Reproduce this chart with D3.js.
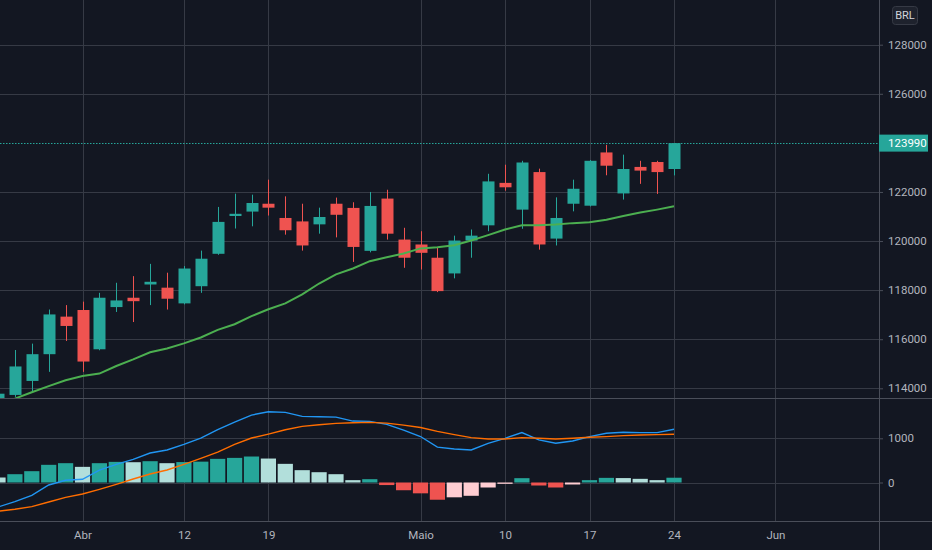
<!DOCTYPE html>
<html>
<head>
<meta charset="utf-8">
<script src="https://cdn.jsdelivr.net/npm/d3@7"></script>
<style>
    html, body { margin: 0; padding: 0; background: #131722; }
    svg { display: block; }
</style>
</head>
<body>
<svg id="chart" width="932" height="550"></svg>
<script>
// daily bars, 25 Mar - 24 May 2021
const dates = ["03-25","03-26","03-29","03-30","03-31","04-01","04-05","04-06","04-07","04-08",
    "04-09","04-12","04-13","04-14","04-15","04-16","04-19","04-20","04-22","04-23",
    "04-26","04-27","04-28","04-29","04-30","05-03","05-04","05-05","05-06","05-07",
    "05-10","05-11","05-12","05-13","05-14","05-17","05-18","05-19","05-20","05-21","05-24"];
const opens  = [113300,113730,114300,115390,116920,117190,115590,117310,117690,118230,
    118100,117460,118160,119480,121020,121200,121520,120940,120800,120680,
    121520,121350,119600,121730,120060,119860,119320,118680,120020,120640,
    122370,121280,122810,120100,121520,121440,123610,121940,123020,123220,122935];
const highs  = [113900,115560,115820,117210,117390,117530,117890,118300,118570,119070,
    118710,118980,119610,121390,121930,121890,122500,121820,121520,121360,
    121770,121580,122000,122090,120540,120400,119720,120220,120470,122740,
    123110,123270,122950,121780,122500,123300,123920,123520,123270,123270,123990];
const lows   = [113200,113650,113830,114670,115930,114670,115550,117110,116700,117390,
    117210,117420,117890,119440,120510,120600,121040,120260,119610,120300,
    120150,119150,119540,120060,118910,118840,117920,118480,119320,120400,
    122050,120500,119650,119820,121210,121410,122680,121690,122330,121920,122675];
const closes = [113780,114890,115390,117010,116540,115090,117690,117580,117550,118340,
    117650,118880,119280,120780,121110,121550,121360,120440,119820,120980,
    121070,119760,121430,120300,119320,119520,117960,120020,120220,122430,
    122190,123200,119860,120940,122130,123270,123070,122935,122870,122810,123990];
const ema20  = [113350,113580,113840,114090,114330,114500,114600,114910,115180,115470,
    115620,115830,116070,116380,116610,116940,117220,117460,117830,118270,
    118640,118880,119180,119340,119490,119700,119750,119830,120020,120240,
    120470,120640,120640,120670,120730,120770,120870,121020,121160,121280,121415];

// MACD pane
const macdLine   = [-554,-434,-290,-57,50,72,282,411,524,667,
    735,863,1006,1194,1367,1526,1600,1586,1496,1487,
    1480,1390,1383,1315,1185,1040,800,757,735,887,
    1000,1129,963,887,940,1038,1114,1137,1129,1129,1205];
const signalLine = [-651,-606,-546,-441,-335,-260,-154,-41,79,192,
    282,411,546,689,863,1006,1096,1194,1270,1306,
    1337,1352,1360,1343,1298,1245,1158,1083,1016,985,
    985,1016,1000,985,1000,1023,1038,1061,1076,1084,1091];
const histogram  = [113,188,256,400,437,354,437,467,459,482,
    437,462,472,535,557,588,542,422,279,233,
    188,53,75,-58,-175,-245,-390,-335,-301,-113,
    -30,98,-68,-113,-45,53,105,100,83,53,108];

// axis ticks
const priceTicks = [114000, 116000, 118000, 120000, 122000, 126000, 128000];
const macdTicks = [0, 1000];
const timeTickIdx = [5, 11, 16, 25, 30, 35, 40, 46];
const timeTickLabels = ["Abr", "12", "19", "Maio", "10", "17", "24", "Jun"];
const lastPrice = 123990;
const currency = "BRL";

// layout
const width = 932, height = 550;
const plotRight = 879;
const mainBottom = 398;
const macdBottom = 521;

const bg = "#131722", gridCol = "#363a45", sepCol = "#4a4e59", textCol = "#b2b5be";
const upCol = "#26a69a", downCol = "#ef5350";
const font = "Roboto, 'Liberation Sans', sans-serif";

const svg = d3.select("#chart");
svg.append("rect").attr("width", width).attr("height", height).attr("fill", bg);

const x = d3.scaleLinear().domain([0, dates.length - 1]).range([-2, 674]);
const bw = x(1) - x(0);
const yPrice = d3.scaleLinear().domain([114000, 128000]).range([388.3, 44.7]);
const yMacd = d3.scaleLinear().domain([0, 1000]).range([482.5, 438.3]);

const defs = svg.append("defs");
defs.append("clipPath").attr("id", "clipMain")
    .append("rect").attr("x", 0).attr("y", 0).attr("width", plotRight).attr("height", mainBottom);
defs.append("clipPath").attr("id", "clipMacd")
    .append("rect").attr("x", 0).attr("y", mainBottom).attr("width", plotRight).attr("height", macdBottom - mainBottom);

//grid lines
let grid = svg.append("g").attr("shape-rendering", "crispEdges");
grid.selectAll("line.v").data(timeTickIdx).enter().append("line")
    .attr("x1", d => Math.round(x(d)) + 0.5).attr("x2", d => Math.round(x(d)) + 0.5)
    .attr("y1", 0).attr("y2", macdBottom)
    .attr("stroke", gridCol);
grid.selectAll("line.p").data(priceTicks).enter().append("line")
    .attr("x1", 0).attr("x2", plotRight)
    .attr("y1", d => Math.round(yPrice(d)) + 0.5).attr("y2", d => Math.round(yPrice(d)) + 0.5)
    .attr("stroke", gridCol);
grid.selectAll("line.m").data(macdTicks).enter().append("line")
    .attr("x1", 0).attr("x2", plotRight)
    .attr("y1", d => Math.round(yMacd(d)) + 0.5).attr("y2", d => Math.round(yMacd(d)) + 0.5)
    .attr("stroke", gridCol);

//candles
let main = svg.append("g").attr("clip-path", "url(#clipMain)");
let candles = main.selectAll("g.candle").data(dates).enter().append("g");
candles.append("line")
    .attr("x1", (d, i) => Math.round(x(i)) + 0.5)
    .attr("x2", (d, i) => Math.round(x(i)) + 0.5)
    .attr("y1", (d, i) => yPrice(highs[i]))
    .attr("y2", (d, i) => yPrice(lows[i]))
    .attr("stroke", (d, i) => closes[i] >= opens[i] ? upCol : downCol)
    .attr("stroke-width", 1);
candles.append("rect")
    .attr("x", (d, i) => Math.round(x(i)) + 0.5 - 6)
    .attr("width", 12)
    .attr("y", (d, i) => yPrice(Math.max(opens[i], closes[i])))
    .attr("height", (d, i) => Math.max(1.5, Math.abs(yPrice(opens[i]) - yPrice(closes[i]))))
    .attr("fill", (d, i) => closes[i] >= opens[i] ? upCol : downCol);

//moving average
main.append("path")
    .datum(ema20)
    .attr("d", d3.line().x((d, i) => x(i)).y(d => yPrice(d)))
    .attr("fill", "none")
    .attr("stroke", "#4caf50")
    .attr("stroke-width", 2);

//last price line
main.append("line")
    .attr("x1", 0).attr("x2", plotRight)
    .attr("y1", Math.round(yPrice(lastPrice)) + 0.5).attr("y2", Math.round(yPrice(lastPrice)) + 0.5)
    .attr("stroke", upCol)
    .attr("stroke-dasharray", "1.5,1.5");

//macd histogram and lines
let macdG = svg.append("g").attr("clip-path", "url(#clipMacd)");
function histColor(v, i) {
    let prev = i > 0 ? histogram[i - 1] : Infinity;
    if (v >= 0) return v > prev ? "#26a69a" : "#b2dfdb";
    return v < prev ? "#ef5350" : "#ffcdd2";
}
macdG.selectAll("rect").data(histogram).enter().append("rect")
    .attr("x", (d, i) => x(i) - bw * 0.45)
    .attr("width", bw * 0.9)
    .attr("y", d => Math.min(yMacd(d), yMacd(0)))
    .attr("height", d => Math.abs(yMacd(d) - yMacd(0)))
    .attr("fill", (d, i) => histColor(d, i));
macdG.append("path")
    .datum(macdLine)
    .attr("d", d3.line().x((d, i) => x(i)).y(d => yMacd(d)))
    .attr("fill", "none")
    .attr("stroke", "#2196f3")
    .attr("stroke-width", 1.4);
macdG.append("path")
    .datum(signalLine)
    .attr("d", d3.line().x((d, i) => x(i)).y(d => yMacd(d)))
    .attr("fill", "none")
    .attr("stroke", "#ff6d00")
    .attr("stroke-width", 1.4);

//pane borders
let borders = svg.append("g").attr("shape-rendering", "crispEdges");
borders.append("line").attr("x1", 0).attr("x2", width).attr("y1", mainBottom + 0.5).attr("y2", mainBottom + 0.5)
    .attr("stroke", sepCol);
borders.append("line").attr("x1", 0).attr("x2", width).attr("y1", macdBottom + 0.5).attr("y2", macdBottom + 0.5)
    .attr("stroke", sepCol);
borders.append("line").attr("x1", plotRight + 0.5).attr("x2", plotRight + 0.5).attr("y1", 0).attr("y2", height)
    .attr("stroke", sepCol);

//axes
function styleAxis(sel) {
    sel.select(".domain").remove();
    sel.selectAll("line").attr("stroke", sepCol);
    sel.selectAll("text")
        .attr("fill", textCol)
        .style("font-family", font)
        .style("font-size", "11.5px");
}
let priceAxis = d3.axisRight(yPrice).tickValues(priceTicks).tickSize(4).tickPadding(5).tickFormat(d3.format("d"));
svg.append("g").attr("transform", `translate(${plotRight},0)`).call(priceAxis).call(styleAxis);
let macdAxis = d3.axisRight(yMacd).tickValues(macdTicks).tickSize(4).tickPadding(5).tickFormat(d3.format("d"));
svg.append("g").attr("transform", `translate(${plotRight},0)`).call(macdAxis).call(styleAxis);
let timeAxis = d3.axisBottom(x).tickValues(timeTickIdx).tickSize(0).tickPadding(10)
    .tickFormat((d, i) => timeTickLabels[i]);
svg.append("g").attr("transform", `translate(0,${macdBottom})`).call(timeAxis).call(styleAxis);

//last price label
let ly = yPrice(lastPrice);
svg.append("rect").attr("x", plotRight).attr("y", ly - 8.5).attr("width", 49).attr("height", 17)
    .attr("fill", upCol);
svg.append("text").attr("x", plotRight + 9).attr("y", ly).attr("dy", "0.35em")
    .text(d3.format("d")(lastPrice))
    .attr("fill", "#ffffff")
    .style("font-family", font).style("font-size", "11.5px");

//currency badge
svg.append("rect").attr("x", 892.5).attr("y", 6.5).attr("width", 25).attr("height", 18).attr("rx", 3)
    .attr("fill", "#1e222d").attr("stroke", "#363a45");
svg.append("text").attr("x", 905).attr("y", 15.5).attr("dy", "0.35em")
    .attr("text-anchor", "middle")
    .text(currency)
    .attr("fill", "#d1d4dc")
    .style("font-family", font).style("font-size", "11px");
</script>
</body>
</html>
